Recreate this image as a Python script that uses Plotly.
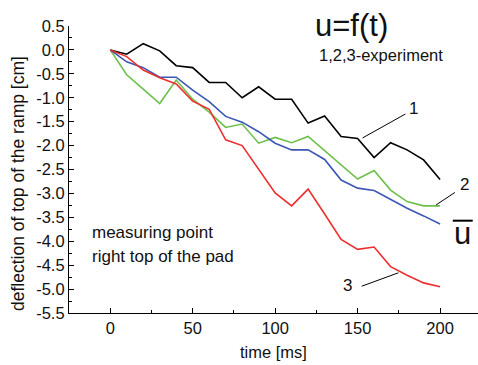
import plotly.graph_objects as go

t = [0, 10, 20, 30, 40, 50, 60, 70, 80, 90, 100, 110, 120, 130, 140, 150, 160, 170, 180, 190, 200]
exp1 = [0, -0.09, 0.13, -0.02, -0.33, -0.37, -0.68, -0.68, -1.0, -0.77, -1.03, -1.03, -1.53, -1.38, -1.81, -1.85, -2.25, -1.94, -2.09, -2.30, -2.71]
exp2 = [0, -0.52, -0.82, -1.12, -0.63, -1.03, -1.30, -1.62, -1.55, -1.95, -1.83, -1.94, -1.81, -2.11, -2.41, -2.70, -2.52, -2.93, -3.17, -3.26, -3.26]
exp3 = [0, -0.14, -0.42, -0.58, -0.71, -1.07, -1.24, -1.88, -2.0, -2.49, -2.99, -3.26, -2.91, -3.43, -3.96, -4.17, -4.12, -4.53, -4.71, -4.87, -4.95]
mean = [0, -0.25, -0.37, -0.57, -0.57, -0.84, -1.08, -1.39, -1.51, -1.71, -1.95, -2.09, -2.09, -2.29, -2.72, -2.89, -2.94, -3.12, -3.31, -3.47, -3.64]

ytickvals = [0.5 - 0.5 * i for i in range(13)]
yticktext = [f"{v:.1f}" for v in ytickvals]
xtickvals = [0, 50, 100, 150, 200]

font = "Liberation Sans, Arial, sans-serif"

fig = go.Figure()
fig.add_trace(go.Scatter(x=t, y=exp1, mode="lines", line=dict(color="#000000", width=1.6)))
fig.add_trace(go.Scatter(x=t, y=exp2, mode="lines", line=dict(color="#6cc04a", width=1.6)))
fig.add_trace(go.Scatter(x=t, y=mean, mode="lines", line=dict(color="#3d55b4", width=1.6)))
fig.add_trace(go.Scatter(x=t, y=exp3, mode="lines", line=dict(color="#ee2e2e", width=1.6)))

# leader lines
fig.add_shape(type="line", x0=153, y0=-1.84, x1=179, y1=-1.34, line=dict(color="black", width=1))
fig.add_shape(type="line", x0=197.6, y0=-3.24, x1=209, y1=-2.98, line=dict(color="black", width=1))
fig.add_shape(type="line", x0=152.5, y0=-4.94, x1=174.7, y1=-4.66, line=dict(color="black", width=1))
# overline for u-bar
fig.add_shape(type="line", x0=207.7, y0=-3.57, x1=219.8, y1=-3.57, line=dict(color="black", width=2))

ann = [
    dict(x=164, y=-0.105, text="1,2,3-experiment", size=16.5, xanchor="center"),
    dict(x=184, y=-1.23, text="1", size=17, xanchor="center"),
    dict(x=215, y=-2.82, text="2", size=17, xanchor="center"),
    dict(x=213.6, y=-3.84, text="u", size=31, xanchor="center"),
    dict(x=144, y=-4.92, text="3", size=17, xanchor="center"),
    dict(x=-12.3, y=-3.82, text="measuring point", size=17, xanchor="left"),
    dict(x=-12.3, y=-4.31, text="right top of the pad", size=17, xanchor="left"),
]
for a in ann:
    fig.add_annotation(x=a["x"], y=a["y"], text=a["text"], showarrow=False,
                       xanchor=a["xanchor"], yanchor="middle",
                       font=dict(family=font, size=a["size"], color="#111111"))

fig.add_annotation(x=146, xref="x", y=1.003, yref="paper", text="u=f(t)", showarrow=False,
                   xanchor="center", yanchor="middle",
                   font=dict(family=font, size=31, color="#111111"))

# y axis title placed by pixel position converted to paper coords
pl, pw, pt, ph = 69, 478 - 69, 26, 365 - 26 - 52
fig.add_annotation(x=(18 - pl) / pw, xref="paper", xanchor="center",
                   y=(365 - 52 - 184) / ph, yref="paper", yanchor="middle",
                   text="deflection of top of the ramp [cm]", textangle=-90, showarrow=False,
                   font=dict(family=font, size=17.5, color="#111111"))

fig.update_layout(
    width=478, height=365,
    margin=dict(l=pl, r=0, t=pt, b=52),
    paper_bgcolor="white", plot_bgcolor="white",
    showlegend=False,
    font=dict(family=font, size=16, color="#111111"),
    xaxis=dict(
        range=[-25, 223], showgrid=False, zeroline=False,
        showline=True, linecolor="black", linewidth=1.2,
        tickmode="array", tickvals=xtickvals, ticktext=[str(v) for v in xtickvals],
        ticks="inside", ticklen=5, tickcolor="black",
        minor=dict(dtick=25, tick0=0, ticks="inside", ticklen=3, tickcolor="black"),
        title=dict(text="time [ms]", font=dict(size=16.5), standoff=10),
        tickfont=dict(size=16.5),
    ),
    yaxis=dict(
        range=[-5.5, 0.5], showgrid=False, zeroline=False,
        showline=True, linecolor="black", linewidth=1.2,
        tickmode="array", tickvals=ytickvals, ticktext=yticktext,
        ticks="inside", ticklen=5, tickcolor="black",
        minor=dict(dtick=0.25, tick0=0, ticks="inside", ticklen=3, tickcolor="black"),
        tickfont=dict(size=16.5),
    ),
)

fig.write_html("out.html")
